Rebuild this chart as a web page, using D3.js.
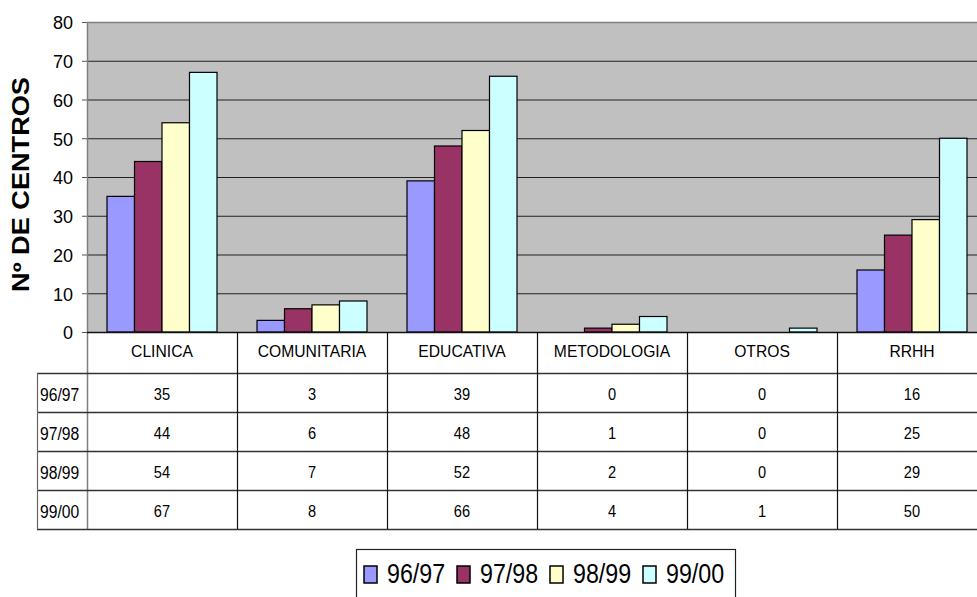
<!DOCTYPE html>
<html>
<head>
<meta charset="utf-8">
<script src="https://cdn.jsdelivr.net/npm/d3@7"></script>
<style>
  html, body { margin: 0; padding: 0; background: #fff; }
  svg { display: block; font-family: "Liberation Sans", Arial, sans-serif; }
</style>
</head>
<body>
<svg id="chart" width="977" height="597"></svg>
<script>
const categories = ["CLINICA", "COMUNITARIA", "EDUCATIVA", "METODOLOGIA", "OTROS", "RRHH"];
const seriesNames = ["96/97", "97/98", "98/99", "99/00"];
const values9697 = [35, 3, 39, 0, 0, 16];
const values9798 = [44, 6, 48, 1, 0, 25];
const values9899 = [54, 7, 52, 2, 0, 29];
const values9900 = [67, 8, 66, 4, 1, 50];
const yTicks = [0, 10, 20, 30, 40, 50, 60, 70, 80];
const yTitle = "Nº DE CENTROS";

const seriesValues = [values9697, values9798, values9899, values9900];
const colors = ["#9999FF", "#993366", "#FFFFCC", "#CCFFFF"];

const svg = d3.select("#chart");
const plotLeft = 87, plotRight = 987, plotTop = 22, plotBottom = 332;
const headerBottom = 373, rowH = 39, tableLeft = 37;

const x = d3.scaleBand().domain(categories).range([plotLeft, plotRight]).padding(0);
const xs = d3.scaleBand().domain(seriesNames).range([20, 130]).padding(0);
const y = d3.scaleLinear().domain([0, 80]).range([plotBottom, plotTop]);

function txt(g, str, tx, ty, size, sx, anchor, weight) {
  return g.append("text")
    .attr("transform", `translate(${tx},${ty}) scale(${sx},1)`)
    .attr("text-anchor", anchor || "middle")
    .attr("font-size", size)
    .attr("font-weight", weight || "normal")
    .attr("fill", "#000")
    .text(str);
}

// plot background
svg.append("rect")
  .attr("x", plotLeft).attr("y", plotTop)
  .attr("width", plotRight - plotLeft).attr("height", plotBottom - plotTop)
  .attr("fill", "#C0C0C0");

// gridlines
svg.append("g").selectAll("line")
  .data(yTicks.filter(d => d > 0 && d < 80))
  .join("line")
  .attr("x1", plotLeft).attr("x2", plotRight)
  .attr("y1", d => y(d) + 0.5).attr("y2", d => y(d) + 0.5)
  .attr("stroke", "#222").attr("stroke-width", 1);
svg.append("line")
  .attr("x1", plotLeft).attr("x2", plotRight)
  .attr("y1", y(80) + 0.5).attr("y2", y(80) + 0.5)
  .attr("stroke", "#808080").attr("stroke-width", 1.5);

// bars
seriesNames.forEach((s, si) => {
  svg.append("g").selectAll("rect")
    .data(categories.map((c, i) => ({ c, v: seriesValues[si][i] })).filter(d => d.v > 0))
    .join("rect")
    .attr("x", d => x(d.c) + xs(s))
    .attr("y", d => y(d.v))
    .attr("width", xs.bandwidth())
    .attr("height", d => y(0) - y(d.v))
    .attr("fill", colors[si])
    .attr("stroke", "#000")
    .attr("stroke-width", 1.2);
});

// y axis
const yAxis = d3.axisLeft(y).tickValues(yTicks).tickSize(5).tickPadding(9);
const ag = svg.append("g").attr("transform", `translate(${plotLeft},0)`).call(yAxis);
ag.select(".domain").remove();
ag.selectAll(".tick line").attr("stroke", "#555");
ag.selectAll(".tick text")
  .attr("font-size", 18)
  .attr("font-family", "'Liberation Sans', Arial, sans-serif")
  .attr("fill", "#000")
  .attr("dy", "0.38em");

// left border of plot (through table)
svg.append("line")
  .attr("x1", plotLeft + 0.5).attr("x2", plotLeft + 0.5)
  .attr("y1", plotTop).attr("y2", headerBottom + rowH * 4)
  .attr("stroke", "#808080").attr("stroke-width", 1.5);

// y title
svg.append("text")
  .attr("transform", `translate(29,184.5) rotate(-90) scale(1.18,1)`)
  .attr("text-anchor", "middle")
  .attr("font-size", 23)
  .attr("font-weight", "bold")
  .text(yTitle);

// table
const tg = svg.append("g");
const tableBottom = headerBottom + rowH * seriesNames.length;
// horizontal lines
tg.append("line")
  .attr("x1", plotLeft).attr("x2", plotRight)
  .attr("y1", plotBottom + 0.5).attr("y2", plotBottom + 0.5)
  .attr("stroke", "#111").attr("stroke-width", 1.5);
tg.selectAll("line.h")
  .data(d3.range(seriesNames.length + 1))
  .join("line")
  .attr("class", "h")
  .attr("x1", tableLeft).attr("x2", plotRight)
  .attr("y1", i => headerBottom + i * rowH + 0.5)
  .attr("y2", i => headerBottom + i * rowH + 0.5)
  .attr("stroke", "#333").attr("stroke-width", 1.3);
// vertical dividers
tg.selectAll("line.v")
  .data(categories.slice(1))
  .join("line")
  .attr("class", "v")
  .attr("x1", d => x(d) + 0.5).attr("x2", d => x(d) + 0.5)
  .attr("y1", plotBottom).attr("y2", tableBottom)
  .attr("stroke", "#111").attr("stroke-width", 1.2);
tg.append("line")
  .attr("x1", tableLeft + 0.5).attr("x2", tableLeft + 0.5)
  .attr("y1", headerBottom).attr("y2", tableBottom)
  .attr("stroke", "#666").attr("stroke-width", 1.2);

// category header labels
categories.forEach(c => {
  txt(tg, c, x(c) + x.bandwidth() / 2, 357, 16.5, 0.95, "middle");
});
// rows
seriesNames.forEach((s, si) => {
  const rowTop = headerBottom + si * rowH;
  txt(tg, s, 40, rowTop + 28, 18, 0.87, "start");
  categories.forEach((c, i) => {
    txt(tg, String(seriesValues[si][i]), x(c) + x.bandwidth() / 2, rowTop + 27, 17, 0.86, "middle");
  });
});

// legend
const lg = svg.append("g");
lg.append("rect")
  .attr("x", 356.5).attr("y", 549.5).attr("width", 379).attr("height", 60)
  .attr("fill", "#fff").attr("stroke", "#222").attr("stroke-width", 1.2);
const legendX = d3.scalePoint().domain(seriesNames).range([364, 643]);
seriesNames.forEach((s, si) => {
  const lx = legendX(s);
  lg.append("rect")
    .attr("x", lx).attr("y", 566).attr("width", 13).attr("height", 17)
    .attr("fill", colors[si]).attr("stroke", "#000").attr("stroke-width", 1.5);
  txt(lg, s, lx + 23, 583, 28, 0.83, "start");
});
</script>
</body>
</html>
